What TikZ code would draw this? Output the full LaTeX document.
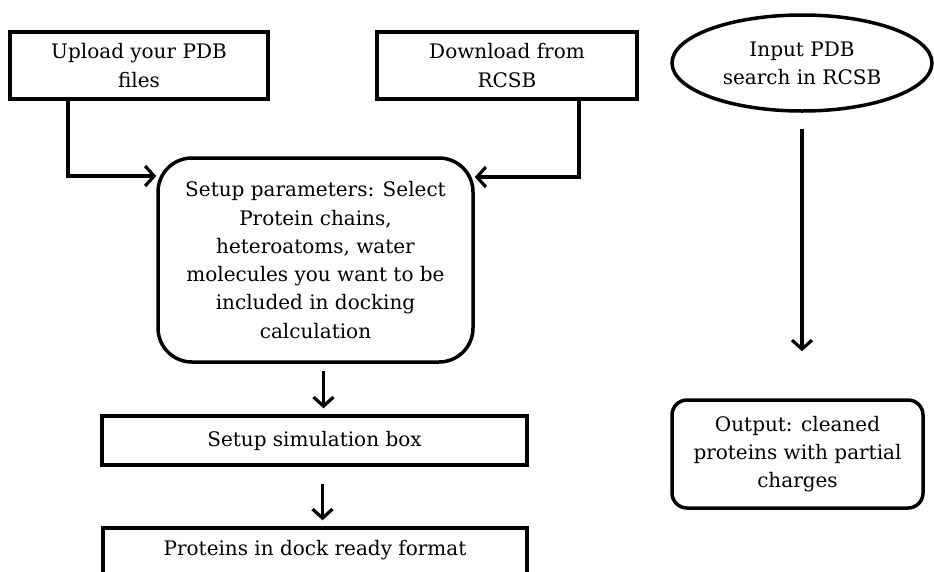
\documentclass[tikz,border=0pt]{standalone}
\usepackage{fontspec}
\setmainfont{DejaVu Serif}
\usetikzlibrary{arrows.meta,shapes.geometric}

\tikzset{
  lbl/.style={font=\fontsize{20}{28.3}\selectfont, align=center, inner sep=0pt},
  sqbox/.style={lbl, draw, line width=3.5pt, rectangle},
  rbox/.style={lbl, draw, line width=3.5pt, rectangle, rounded corners=#1},
  oval/.style={lbl, draw, line width=3.5pt, ellipse},
  arr/.style={line width=3.8pt, -{Straight Barb[length=9pt, width=20pt, line width=3.2pt]}},
}

\begin{document}
\begin{tikzpicture}[x=1pt, y=-1pt]
  \useasboundingbox (0,0) rectangle (934,571);
  \clip (0,0) rectangle (934,571);

  % input boxes
  \node[sqbox, minimum width=258pt, minimum height=67pt] (up) at (139,65.5)
    {Upload your PDB\\files};
  \node[sqbox, minimum width=260pt, minimum height=67pt] (dl) at (507,65.5)
    {Download from\\RCSB};
  \node[oval, minimum width=260pt, minimum height=96pt] (inp) at (802,63)
    {Input PDB\\search in RCSB};

  % processing chain
  \node[rbox=34pt, minimum width=315pt, minimum height=204pt] (setup) at (315.5,260)
    {Setup parameters: Select\\Protein chains,\\heteroatoms, water\\molecules you want to be\\included in docking\\calculation};
  \node[sqbox, minimum width=425pt, minimum height=49pt] (sim) at (314.5,440.5)
    {Setup simulation box};
  \node[sqbox, minimum width=424pt, minimum height=52pt, text depth=24pt] (prot) at (315,554)
    {};
  \node[lbl] (protlbl) at (315,550) {Proteins in dock ready format};

  % output
  \node[rbox=15pt, minimum width=251pt, minimum height=108pt] (out) at (797.5,454)
    {Output: cleaned\\proteins with partial\\charges};

  % connectors
  \draw[arr] ([xshift=-71pt]up.south) |- ([yshift=84pt]setup.west);
  \draw[arr] ([xshift=72pt]dl.south) |- ([yshift=83pt]setup.east);
  \draw[arr, shorten <=7pt, shorten >=6pt]
    ([xshift=8pt]setup.south) -- ([xshift=8pt]setup.south |- sim.north);
  \draw[arr, shorten <=17pt, shorten >=6pt]
    ([xshift=8pt]sim.south) -- ([xshift=8pt]sim.south |- prot.north);
  \draw[arr, shorten <=16pt, shorten >=47pt]
    (inp.south) -- (inp.south |- out.north);
\end{tikzpicture}
\end{document}
